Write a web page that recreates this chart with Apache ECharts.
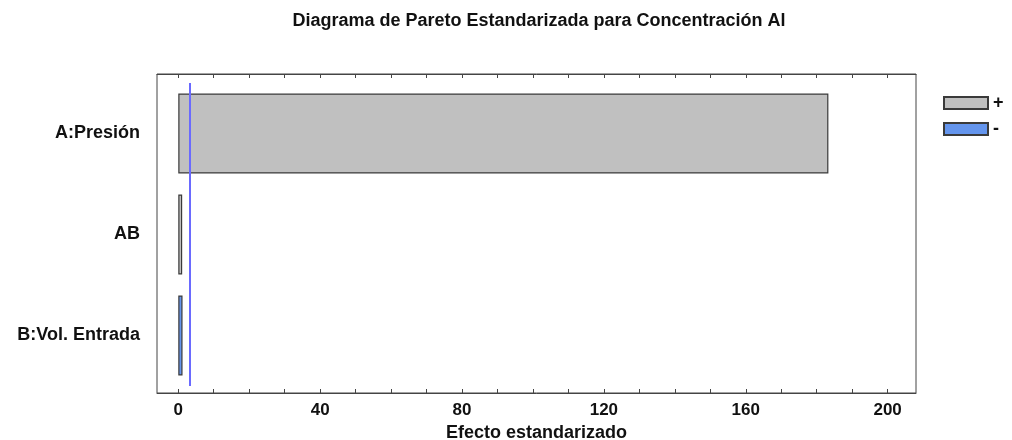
<!DOCTYPE html>
<html><head><meta charset="utf-8">
<script src="https://cdn.jsdelivr.net/npm/echarts@6/dist/echarts.min.js"></script>
<style>html,body{margin:0;padding:0;background:#fff}#c{width:1012px;height:440px}</style>
</head><body><div id="c"></div>
<script>
const categories = ['B:Vol. Entrada', 'AB', 'A:Presión'];
const positiveEffects = [null, 1.1, 183.3];
const negativeEffects = [1.2, null, null];
const criticalValue = 3.18;
const tickValues = [0,10,20,30,40,50,60,70,80,90,100,110,120,130,140,150,160,170,180,190,200];
const labelValues = [0, 40, 80, 120, 160, 200];
const xMin = -6, xMax = 208;

const font = 'Liberation Sans, Arial, sans-serif';
const chart = echarts.init(document.getElementById('c'));
chart.setOption({
  animation: false,
  title: {
    text: 'Diagrama de Pareto Estandarizada para Concentración Al',
    left: 534, top: 7, textAlign: 'center',
    textStyle: {fontFamily: font, fontSize: 18, fontWeight: 'bold', color: '#111'}
  },
  legend: {
    orient: 'vertical', left: 938, top: 89, itemWidth: 44, itemHeight: 12, itemGap: 8,
    icon: 'rect',
    data: ['+', '-'],
    textStyle: {fontFamily: font, fontSize: 18, fontWeight: 'bold', color: '#111'}
  },
  grid: [
    {left: 157, right: 96, top: 74, bottom: 47, show: true, borderColor: '#444', borderWidth: 1,
     containLabel: false, outerBoundsMode: 'none'},
    {left: 157, right: 96, top: 83, bottom: 54, containLabel: false, outerBoundsMode: 'none'}
  ],
  xAxis: [
    {gridIndex: 0, type: 'value', min: xMin, max: xMax, position: 'bottom',
     name: 'Efecto estandarizado', nameLocation: 'middle', nameGap: 29,
     nameTextStyle: {fontFamily: font, fontSize: 18, fontWeight: 'bold', color: '#111'},
     axisLine: {show: true, lineStyle: {color: '#444'}},
     axisTick: {show: true, inside: true, length: 4, customValues: tickValues, lineStyle: {color: '#444'}},
     axisLabel: {customValues: labelValues, fontFamily: font, fontSize: 17, fontWeight: 'bold', color: '#111', margin: 9},
     splitLine: {show: false}},
    {gridIndex: 0, type: 'value', min: xMin, max: xMax, position: 'top',
     axisLine: {show: true, lineStyle: {color: '#444'}},
     axisTick: {show: true, inside: true, length: 4, customValues: tickValues, lineStyle: {color: '#444'}},
     axisLabel: {show: false}, splitLine: {show: false}},
    {gridIndex: 1, type: 'value', min: xMin, max: xMax, show: false, splitLine: {show: false}}
  ],
  yAxis: [
    {gridIndex: 0, type: 'value', show: false, splitLine: {show: false}},
    {gridIndex: 1, type: 'category', data: categories,
     axisLine: {show: false}, axisTick: {show: false},
     axisLabel: {fontFamily: font, fontSize: 18, fontWeight: 'bold', color: '#111', margin: 17}}
  ],
  series: [
    {name: '+', type: 'bar', xAxisIndex: 2, yAxisIndex: 1, data: positiveEffects,
     barWidth: 80, barGap: '-100%',
     itemStyle: {color: '#c0c0c0', borderColor: '#3a3a3a', borderWidth: 1.2},
     markLine: {symbol: 'none', silent: true, label: {show: false},
       lineStyle: {color: '#6a6aff', width: 2, type: 'solid'},
       data: [{xAxis: criticalValue}]}},
    {name: '-', type: 'bar', xAxisIndex: 2, yAxisIndex: 1, data: negativeEffects,
     barWidth: 80, barGap: '-100%',
     itemStyle: {color: '#6495ed', borderColor: '#3a3a3a', borderWidth: 1.2}}
  ]
});
</script></body></html>
